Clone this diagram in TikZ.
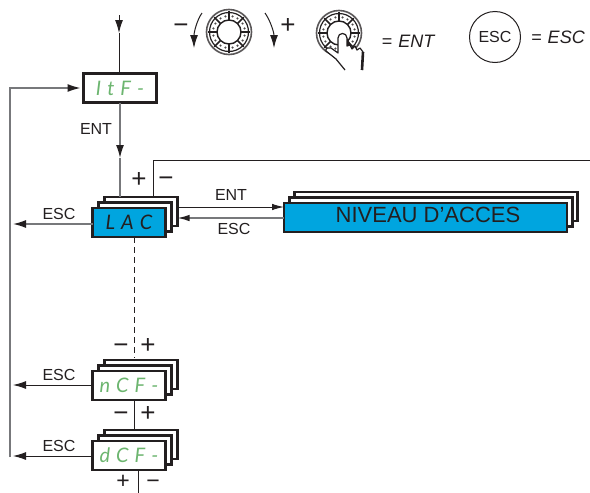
\documentclass[tikz,border=0pt]{standalone}
\usepackage{fontspec}
\setmainfont{Liberation Sans}
\newfontfamily\segfont{Lato Italic}
\usetikzlibrary{arrows.meta,calc}
\definecolor{ink}{HTML}{231F20}
\definecolor{greyline}{HTML}{77787B}
\definecolor{cyanfill}{HTML}{00A5DF}
\definecolor{segreen}{HTML}{6CB56F}
\newcommand{\lab}[1]{\fontsize{16}{16}\selectfont #1}
\newcommand{\biglab}[1]{\fontsize{18}{18}\selectfont #1}
\newcommand{\sign}[1]{\fontsize{26}{26}\selectfont #1}
\newcommand{\signsmall}[1]{\fontsize{23}{23}\selectfont #1}
\newcommand{\segtxt}[1]{\fontsize{20}{20}\selectfont\segfont #1}
\newcommand{\sgap}{\hspace{6pt}}
\tikzset{
  x=1pt,y=-1pt,
  panel/.style={draw=ink,line width=2.8pt,fill=white,rectangle,inner sep=0pt,outer sep=0pt},
  conn/.style={draw=ink,line width=1pt},
  grey/.style={draw=greyline,line width=1.4pt},
  tipL/.style={-{Latex[length=13pt,width=8pt,color=ink]}},
  tipS/.style={-{Latex[length=12pt,width=6.5pt,color=ink]}},
  labelnode/.style={text=ink,inner sep=0pt},
  signnode/.style={text=ink,inner sep=0pt,anchor=base},
}
% name, centre x, centre y, width, height, fill, text
\newcommand{\stackbox}[7]{%
  \node[panel,minimum width=#4pt,minimum height=#5pt] (#1back) at (#2+12,#3-11) {};
  \node[panel,minimum width=#4pt,minimum height=#5pt] (#1mid) at (#2+6,#3-5.5) {};
  \node[panel,minimum width=#4pt,minimum height=#5pt,fill=#6] (#1) at (#2,#3) {#7};
}
\newcommand{\dial}[3]{%
  \begin{scope}[shift={(#2,#3)}]
    \draw[ink!75,line width=1.6pt,fill=white] (0,0) circle (22.5);
    \draw[ink,line width=1.2pt] (0,0) circle (19.5);
    \foreach \a in {0,45,...,315}{
      \draw[ink,line width=1.6pt] (\a:12) -- (\a:21);
      \fill[ink!80] (\a+13:16) circle (1.2);
      \fill[ink!80] (\a+32:16) circle (1.2);
    }
    \draw[ink,line width=1.4pt,fill=white] (0,0) circle (12);
    \coordinate (#1) at (0,0);
  \end{scope}
}
\begin{document}
\begin{tikzpicture}
\useasboundingbox (0,0) rectangle (590,493);
\fill[white] (0,0) rectangle (590,493);

% boxes
\node[panel,minimum width=73pt,minimum height=29pt,text=segreen] (itf) at (120,88) {\segtxt{I\sgap t\sgap F\sgap -}};
\stackbox{lac}{129}{222.5}{73}{29}{cyanfill}{\segtxt{\color{ink}L\sgap A\sgap C}}
\stackbox{mcf}{129}{385.5}{73}{29}{white}{\segtxt{\color{segreen}n\sgap C\sgap F\sgap -}}
\stackbox{dcf}{129}{455.5}{73}{29}{white}{\segtxt{\color{segreen}d\sgap C\sgap F\sgap -}}
\node[panel,minimum width=283pt,minimum height=29pt] (nivback) at (436,206.5) {};
\node[panel,minimum width=283pt,minimum height=29pt] (nivmid) at (431,212) {};
\node[panel,minimum width=283pt,minimum height=29pt,fill=cyanfill] (niv) at (425.5,217.5) {};
\node[text=ink,inner sep=0pt,font=\fontsize{22}{22}\selectfont] (nivtxt) at (428,215) {NIVEAU D'ACCES};

% free ends
\coordinate (topin) at (119,15);
\coordinate (tophead) at (119,33);
\coordinate (enthead) at (120,158);
\coordinate (leftbot) at (10,457);
\coordinate (lefttop) at (10,88);
\coordinate (esclac) at (13,224);
\coordinate (escmcf) at (13,385);
\coordinate (escdcf) at (13,456);
\coordinate (minuscorner) at (153,160);
\coordinate (rightend) at (590,160);
\coordinate (dashend) at (134.5,358);
\coordinate (dcfout) at (138.5,493);

% connectors
\draw[conn,tipL] (topin) -- (tophead);
\draw[conn] (tophead) -- (itf.north -| tophead);
\draw[grey,tipL] (itf.south) -- (enthead);
\draw[grey] (enthead) -- (lacback.north -| enthead);
\draw[grey,tipL,shorten >=3pt] (leftbot) -- (lefttop) -- (itf.west);
\draw[grey,tipL] (lac.west |- esclac) -- (esclac);
\draw[conn,tipL] (mcf.west |- escmcf) -- (escmcf);
\draw[conn,tipL] (dcf.west |- escdcf) -- (escdcf);
\draw[conn] (minuscorner |- lacback.north) -- (minuscorner) -- (rightend);
\draw[conn,dash pattern=on 6pt off 4pt] (lac.south -| dashend) -- (dashend);
\draw[conn] (mcf.south -| dashend) -- (dcfback.north -| dashend);
\draw[conn] (dcf.south -| dcfout) -- (dcfout);
\coordinate (entl) at (178,207);
\coordinate (escl) at (178,218);
\draw[conn,tipS] (lacback.east |- entl) -- (niv.west |- entl);
\draw[grey,tipS] (niv.west |- escl) -- (lacback.east |- escl);

% labels
\node[labelnode] (lent) at (96,129) {\lab{ENT}};
\node[labelnode] (lesc1) at (59,214) {\lab{ESC}};
\node[labelnode] (lesc2) at (59,375) {\lab{ESC}};
\node[labelnode] (lesc3) at (59,446) {\lab{ESC}};
\node[labelnode] (lent2) at (231,195) {\lab{ENT}};
\node[labelnode] (lesc4) at (234,229) {\lab{ESC}};
\node[signnode] (p1) at (139,187) {\sign{+}};
\node[signnode] (m1) at (166,186) {\sign{−}};
\node[signnode] (m2) at (121,353) {\sign{−}};
\node[signnode] (p2) at (148,353) {\sign{+}};
\node[signnode] (m3) at (121,421) {\sign{−}};
\node[signnode] (p3) at (148,421) {\sign{+}};
\node[signnode] (p4) at (123,488) {\signsmall{+}};
\node[signnode] (m4) at (153,488) {\signsmall{−}};

% legend: dial with rotation arrows
\dial{d1}{229}{32}
\coordinate (la1) at (202,13);
\coordinate (la2) at (194,48);
\coordinate (ra1) at (265,13);
\coordinate (ra2) at (274,48);
\draw[conn,tipL] (la1) .. controls (197,20) and (194,32) .. (la2);
\draw[conn,tipL] (ra1) .. controls (270,20) and (274,32) .. (ra2);
\node[signnode] (mleg) at (181,33) {\sign{−}};
\node[signnode] (pleg) at (288,33) {\sign{+}};

% legend: press
\dial{d2}{339}{33}
\draw[ink,line width=1.2pt,fill=white,line join=round]
  (345,70) -- (336,59) -- (326,51) .. controls (325,48) and (329,47) .. (331,48) -- (338,53)
  -- (338,38) .. controls (338,32) and (347,32) .. (347,38) -- (347,46)
  -- (350,45) -- (352,49) -- (355,46) -- (357,50) -- (360,48) -- (363,52) -- (362,70);
\draw[ink,line width=2.6pt] (363,52) -- (362,70);
\fill[ink] (347,38) -- (351,45) -- (347,46) -- cycle;
\node[labelnode,font=\itshape] (eqent) at (408,41) {\biglab{=\hspace{6pt}ENT}};

% legend: ESC
\node[draw=ink,line width=1pt,circle,minimum size=51pt,inner sep=0pt,text=ink] (esckey) at (495,37) {\lab{ESC}};
\node[labelnode,font=\itshape] (eqesc) at (558,37) {\biglab{=\hspace{6pt}ESC}};
\end{tikzpicture}
\end{document}
